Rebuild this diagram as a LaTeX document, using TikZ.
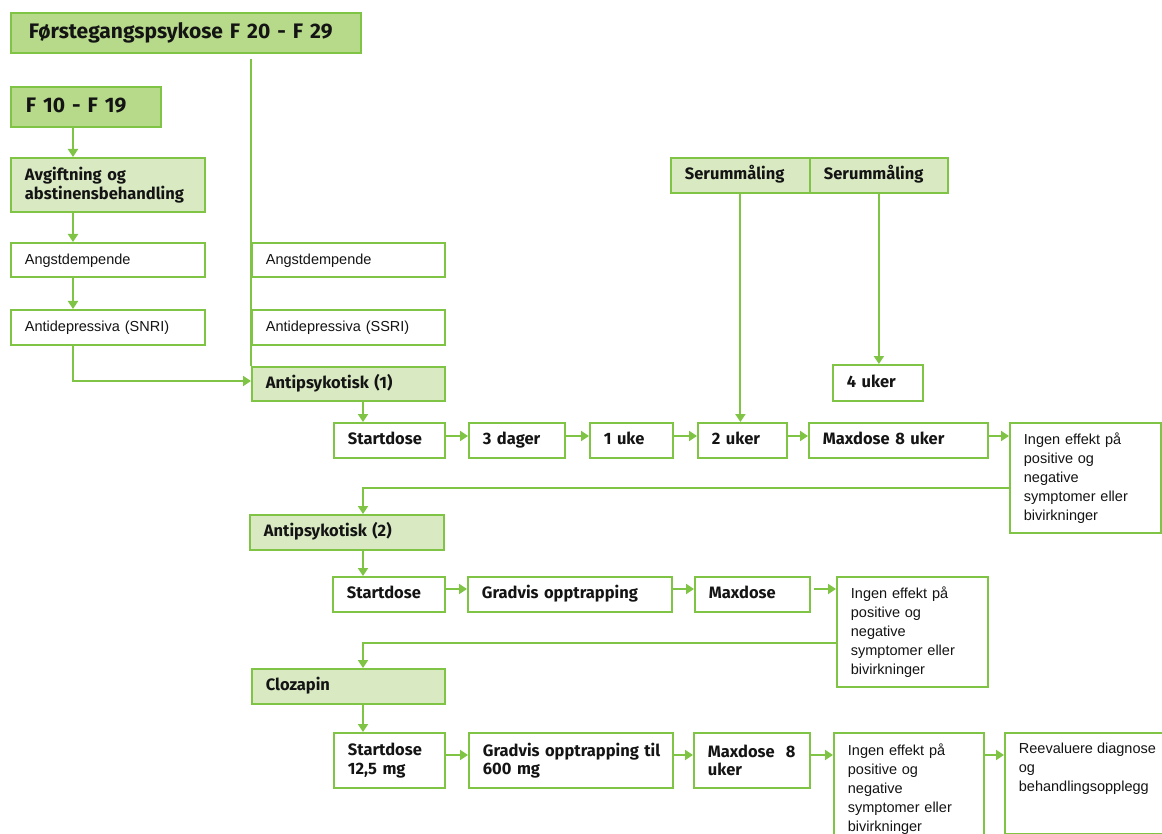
\documentclass[tikz,border=0pt]{standalone}
\usepackage{fontspec}
\setmainfont{Liberation Sans}
\newfontfamily\hdfont{Fira Sans}[WordSpace=0.75]
\usetikzlibrary{arrows.meta,calc}
\definecolor{gline}{RGB}{128,196,70}
\definecolor{gdark}{RGB}{182,217,138}
\definecolor{glight}{RGB}{217,234,195}
\definecolor{txt}{RGB}{20,20,20}
\begin{document}
\begin{tikzpicture}[x=1pt,y=-1pt,
  bx/.style={draw=gline,line width=1.8pt,anchor=north west,inner xsep=14pt,inner ysep=1pt,align=left,text=txt},
  sz/.style n args={3}{minimum width=#1pt,minimum height=#2pt,text width=#3pt},
  one/.style={text height=11.5pt,text depth=3pt},
  big/.style={font={\hdfont\bfseries\fontsize{21}{24}\selectfont},fill=gdark,text height=15pt,text depth=4pt},
  hd/.style={font={\hdfont\bfseries\fontsize{16.5}{18.5}\selectfont}},
  hdl/.style={hd,fill=glight},
  rg/.style={font={\fontsize{14.5}{19}\selectfont},fill=white},
  conn/.style={draw=gline,line width=2pt},
  arr/.style={conn,-{Triangle[width=10pt,length=8pt]}}
]
\useasboundingbox (0,0) rectangle (1162,834);
% left / top column
\node[bx,big,sz={350}{40}{314},inner xsep=18pt] (title) at (10,12) {Førstegangspsykose F 20 - F 29};
\node[bx,big,sz={150}{40}{120},inner xsep=15pt] (f10) at (10,86) {F 10 - F 19};
\node[bx,hdl,sz={194}{54}{166}] (avg) at (10,157) {Avgiftning og\\abstinensbehandling};
\node[bx,rg,one,sz={194}{34}{166}] (ang1) at (10,242) {Angstdempende};
\node[bx,rg,one,sz={194}{35}{166}] (snri) at (10,309) {Antidepressiva (SNRI)};
\node[bx,rg,one,sz={193}{34}{165}] (ang2) at (251,242) {Angstdempende};
\node[bx,rg,one,sz={193}{35}{165}] (ssri) at (251,309) {Antidepressiva (SSRI)};
\node[bx,hdl,one,sz={193}{34}{165}] (ap1) at (251,366) {Antipsykotisk (1)};
% row 1
\node[bx,hd,one,sz={111}{35}{83}] (sd1) at (333,422) {Startdose};
\node[bx,hd,one,sz={96}{35}{68}] (d3) at (468,422) {3 dager};
\node[bx,hd,one,sz={83}{35}{55}] (u1) at (589,422) {1 uke};
\node[bx,hd,one,sz={89}{35}{61}] (u2) at (697,422) {2 uker};
\node[bx,hd,one,sz={179}{35}{151}] (md1) at (808,422) {Maxdose 8 uker};
\node[bx,rg,sz={151}{110}{123}] (ie1) at (1009,422) {Ingen effekt på\\positive og\\negative\\symptomer eller\\bivirkninger};
\node[bx,hdl,one,sz={139}{35}{111}] (s1) at (670,157) {Serummåling};
\node[bx,hdl,one,sz={138}{35}{110}] (s2) at (809,157) {Serummåling};
\node[bx,hd,one,sz={90}{36}{62}] (u4) at (832,364) {4 uker};
% row 2
\node[bx,hdl,one,sz={194}{35}{166}] (ap2) at (249,514) {Antipsykotisk (2)};
\node[bx,hd,one,sz={112}{35}{84}] (sd2) at (332,576) {Startdose};
\node[bx,hd,one,sz={204}{35}{176}] (gr) at (467,576) {Gradvis opptrapping};
\node[bx,hd,one,sz={115}{35}{87}] (md2) at (694,576) {Maxdose};
\node[bx,rg,sz={151}{110}{123}] (ie2) at (836,576) {Ingen effekt på\\positive og\\negative\\symptomer eller\\bivirkninger};
% row 3
\node[bx,hdl,one,sz={193}{35}{165}] (cl) at (251,668) {Clozapin};
\node[bx,hd,sz={111}{55}{83}] (sd3) at (333,732) {Startdose\\12,5 mg};
\node[bx,hd,sz={204}{55}{176}] (gr3) at (468,732) {\makebox[176pt][l]{Gradvis opptrapping til}\\600 mg};
\node[bx,hd,sz={116}{55}{88}] (md3) at (693,732) {Maxdose~~8\\uker};
\node[bx,rg,sz={150}{113}{122}] (ie3) at (833,732) {Ingen effekt på\\positive og\\negative\\symptomer eller\\bivirkninger};
\node[bx,rg,minimum width=170pt,minimum height=101pt,inner ysep=4pt] (re) at (1004,732)
  {\parbox[c][93pt][t]{142pt}{\vspace{6pt}Reevaluere diagnose\\og\\behandlingsopplegg}};
% helper coordinates
\coordinate (lc) at (73,0);
\coordinate (mc) at (363,0);
\coordinate (ya) at (0,381);
\coordinate (ra) at (0,436);
\coordinate (rb) at (0,589);
\coordinate (rc) at (0,755);
\coordinate (r1) at (0,488);
\coordinate (r2) at (0,643);
% connectors
\draw[conn] ($(ap1.west |- title.south)+(0,5)$) -- (ap1.north west);
\draw[arr] (f10.south -| lc) -- (avg.north -| lc);
\draw[arr] (avg.south -| lc) -- (ang1.north -| lc);
\draw[arr] (ang1.south -| lc) -- (snri.north -| lc);
\draw[arr] (snri.south -| lc) |- (ap1.west |- ya);
\draw[arr] (ap1.south -| mc) -- (sd1.north -| mc);
\draw[arr] (sd1.east |- ra) -- (d3.west |- ra);
\draw[arr] (d3.east |- ra) -- (u1.west |- ra);
\draw[arr] (u1.east |- ra) -- (u2.west |- ra);
\draw[arr] (u2.east |- ra) -- (md1.west |- ra);
\draw[arr] (md1.east |- ra) -- (ie1.west |- ra);
\draw[arr] (s1.south) -- (s1.south |- u2.north);
\draw[arr] (s2.south) -- (s2.south |- u4.north);
\draw[arr] (ie1.west |- r1) -| (ap2.north -| mc);
\draw[arr] (ap2.south -| mc) -- (sd2.north -| mc);
\draw[arr] (sd2.east |- rb) -- (gr.west |- rb);
\draw[arr] (gr.east |- rb) -- (md2.west |- rb);
\draw[arr] ($(md2.east |- rb)+(3,0)$) -- (ie2.west |- rb);
\draw[arr] (ie2.west |- r2) -| (cl.north -| mc);
\draw[arr] (cl.south -| mc) -- (sd3.north -| mc);
\draw[arr] (sd3.east |- rc) -- (gr3.west |- rc);
\draw[arr] (gr3.east |- rc) -- (md3.west |- rc);
\draw[arr] (md3.east |- rc) -- (ie3.west |- rc);
\draw[arr] (ie3.east |- rc) -- (re.west |- rc);
\end{tikzpicture}
\end{document}
